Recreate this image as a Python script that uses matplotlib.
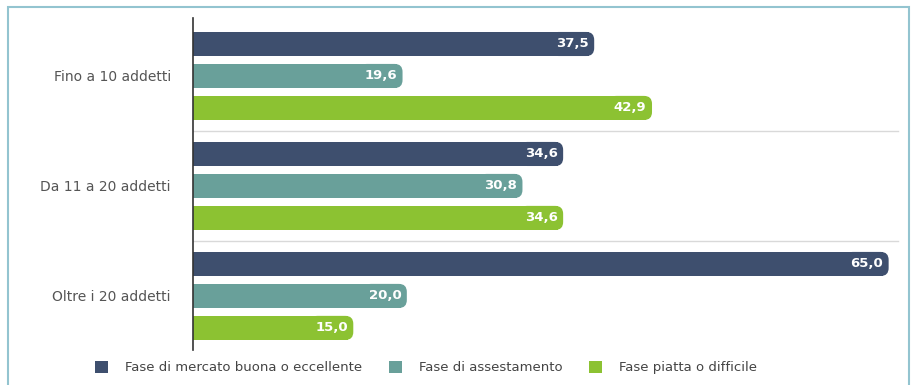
import numpy as np
import matplotlib.pyplot as plt
from matplotlib.patches import Rectangle, Patch

categories = ['Fino a 10 addetti', 'Da 11 a 20 addetti', 'Oltre i 20 addetti']
series = ['Fase di mercato buona o eccellente', 'Fase di assestamento', 'Fase piatta o difficile']
buona = [37.5, 34.6, 65.0]
assestamento = [19.6, 30.8, 20.0]
piatta = [42.9, 34.6, 15.0]

colors = ['#3e4f6e', '#69a09a', '#8cc232']
GROUP_PITCH = 3.44
BAR_H = 0.75
CAP = 0.55  # rounded label cap at the bar end, in data units

fig = plt.figure(figsize=(9.14, 3.85), dpi=100)
ax = fig.add_axes([0.2112, 0.091, 0.779, 0.862])

values = [buona, assestamento, piatta]
for j, vals in enumerate(values):
    ys = np.arange(len(categories)) * GROUP_PITCH + (j - 1)
    ax.barh(ys, [v - CAP for v in vals], height=BAR_H, color=colors[j], edgecolor='none', zorder=2)
    for y, v in zip(ys, vals):
        ax.text(v - CAP, y, f'{v:.1f}'.replace('.', ','), ha='right', va='center',
                color='white', fontsize=9.5, fontweight='bold', zorder=4,
                bbox=dict(boxstyle='round,pad=0.42,rounding_size=0.6', fc=colors[j], ec='none'))

# light separators between groups
for i in range(len(categories) - 1):
    ax.axhline((i + 0.5) * GROUP_PITCH, xmin=0, xmax=0.99, color='#d9d9d9', lw=1, zorder=1)

ax.set_xlim(0, 66.5)
ax.set_ylim(2 * GROUP_PITCH + 1.69, -1.81)
ax.set_yticks(np.arange(len(categories)) * GROUP_PITCH)
ax.set_yticklabels(categories, fontsize=10, color='#555555')
ax.tick_params(axis='y', length=0, pad=16)
ax.set_xticks([])
for side in ['top', 'right', 'bottom']:
    ax.spines[side].set_visible(False)
ax.spines['left'].set_color('#333333')
ax.spines['left'].set_linewidth(1.2)

handles = [Patch(facecolor=c, edgecolor='none') for c in colors]
fig.legend(handles, series, loc='center', bbox_to_anchor=(0.466, 0.045), ncol=3,
           frameon=False, fontsize=9.5, labelcolor='#444444', handlelength=1.0,
           handleheight=1.0, columnspacing=2.0, handletextpad=1.3)

fig.patches.append(Rectangle((8 / 914, -0.02), 901 / 914, 1 - 7 / 385 + 0.02,
                             transform=fig.transFigure, fill=False,
                             edgecolor='#93c4d0', linewidth=1.5))

fig.savefig('out.png', dpi=100)
